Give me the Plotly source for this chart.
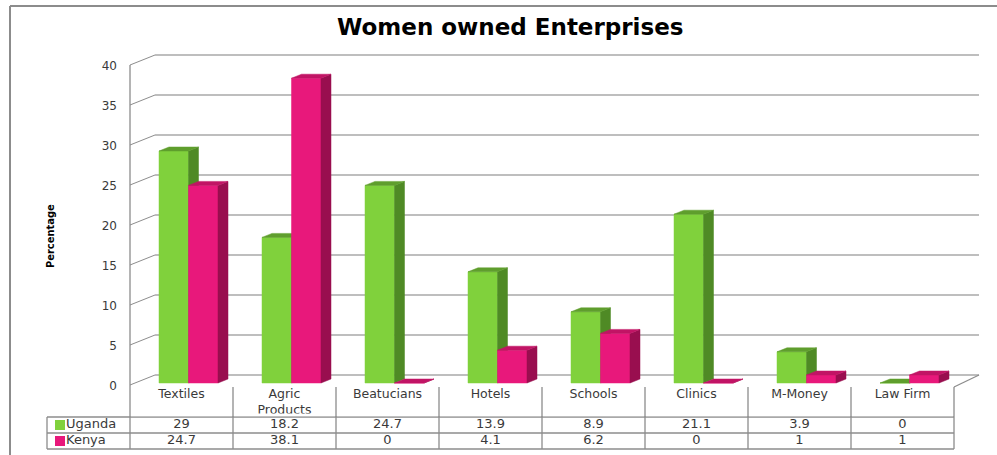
import plotly.graph_objects as go

# ---------------- data ----------------
categories = ["Textiles", "Agric<br>Products", "Beatucians", "Hotels", "Schools",
              "Clinics", "M-Money", "Law Firm"]
uganda = [29, 18.2, 24.7, 13.9, 8.9, 21.1, 3.9, 0]
kenya = [24.7, 38.1, 0, 4.1, 6.2, 0, 1, 1]
series_names = ["Uganda", "Kenya"]
y_ticks = [0, 5, 10, 15, 20, 25, 30, 35, 40]
title_text = "Women owned Enterprises"
y_title = "Percentage"

# ---------------- styles ----------------
W, H = 997, 455
PX_CAT = 103.0     # pixels per category
PX_UNIT = 8.0      # pixels per percentage unit
X0PX = 130.0       # pixel of the front-left axis (x = -0.5)
Y0PX = 385.0       # pixel of value 0 on the front axis

def xd(px):
    return (px - X0PX) / PX_CAT - 0.5

def yd(py):
    return (Y0PX - py) / PX_UNIT

GREEN = dict(front="#80d13c", side="#4f8a25", top="#5f9e2d")
PINK = dict(front="#e8187b", side="#990e4f", top="#c11465")
GRID = "#a8a8a8"
LINE = "#8c8c8c"
TXT = "#3a3a3a"
FONT = "DejaVu Sans"

n = len(categories)
wall_dx = 25 / PX_CAT
wall_dy = 10 / PX_UNIT
bar_dx = 10 / PX_CAT
bar_dy = 4 / PX_UNIT
bar_w = 29.5 / PX_CAT
bar_off = -22.5 / PX_CAT
bar_base = 2 / PX_UNIT

fig = go.Figure()

# back-wall grid lines and side-wall connectors
gx, gy, sx, sy = [], [], [], []
for v in y_ticks:
    gx += [-0.5 + wall_dx, n - 0.5 + wall_dx, None]
    gy += [v + wall_dy, v + wall_dy, None]
    sx += [-0.5, -0.5 + wall_dx, None]
    sy += [v, v + wall_dy, None]
fig.add_trace(go.Scatter(x=gx, y=gy, mode="lines", line=dict(color=GRID, width=1.3),
                         hoverinfo="skip"))
fig.add_trace(go.Scatter(x=sx, y=sy, mode="lines", line=dict(color=LINE, width=1),
                         hoverinfo="skip"))

# 3D bars
def faces(vals, k):
    fx, fy, sdx, sdy, tx, ty = [], [], [], [], [], []
    for i, v in enumerate(vals):
        x0 = i + bar_off + k * bar_w
        x1 = x0 + bar_w
        b = bar_base
        t = bar_base + v
        fx += [x0, x1, x1, x0, x0, None]
        fy += [b, b, t, t, b, None]
        sdx += [x1, x1 + bar_dx, x1 + bar_dx, x1, x1, None]
        sdy += [b, b + bar_dy, t + bar_dy, t, b, None]
        tx += [x0, x1, x1 + bar_dx, x0 + bar_dx, x0, None]
        ty += [t, t, t + bar_dy, t + bar_dy, t, None]
    return (fx, fy), (sdx, sdy), (tx, ty)

for k, (vals, col, name) in enumerate([(uganda, GREEN, series_names[0]),
                                       (kenya, PINK, series_names[1])]):
    f, s, t = faces(vals, k)
    for (px_, py_), c in [(f, col["front"]), (s, col["side"]), (t, col["top"])]:
        fig.add_trace(go.Scatter(x=px_, y=py_, mode="lines", fill="toself",
                                 fillcolor=c, line=dict(color=c, width=0.5),
                                 name=name, hoverinfo="skip"))

# front axis line, table lines, floor diagonal
ax_x = [-0.5, -0.5, None]
ax_y = [40, yd(449), None]
for k in range(1, n + 1):
    ax_x += [-0.5 + k, -0.5 + k, None]
    ax_y += [yd(387), yd(449), None]
for py in [417, 433, 449]:
    ax_x += [xd(47), n - 0.5, None]
    ax_y += [yd(py), yd(py), None]
ax_x += [xd(47), xd(47), None]
ax_y += [yd(417), yd(449), None]
ax_x += [n - 0.5, n - 0.5 + wall_dx, None]
ax_y += [yd(387), wall_dy, None]
fig.add_trace(go.Scatter(x=ax_x, y=ax_y, mode="lines", line=dict(color=LINE, width=1.3),
                         hoverinfo="skip"))

# y tick labels
fig.add_trace(go.Scatter(x=[xd(117)] * len(y_ticks), y=[v - 0.2 for v in y_ticks],
                         mode="text", text=[str(v) for v in y_ticks],
                         textposition="middle left",
                         textfont=dict(family=FONT, size=12, color=TXT), hoverinfo="skip"))

# category names
fig.add_trace(go.Scatter(x=list(range(n)), y=[yd(388.5)] * n, mode="text", text=categories,
                         textposition="bottom center",
                         textfont=dict(family=FONT, size=12.5, color=TXT), hoverinfo="skip"))
# mask clipping the header row (two-line labels are cut by the row border)
mx, my = [], []
for i in range(n):
    x0, x1 = i - 0.5 + 0.01, i + 0.5 - 0.01
    mx += [x0, x1, x1, x0, x0, None]
    my += [yd(413.5), yd(413.5), yd(416.3), yd(416.3), yd(413.5), None]
fig.add_trace(go.Scatter(x=mx, y=my, mode="lines", fill="toself", fillcolor="white",
                         line=dict(color="white", width=0), hoverinfo="skip"))

# value rows
for vals, py in [(uganda, 425), (kenya, 441)]:
    fig.add_trace(go.Scatter(x=list(range(n)), y=[yd(py)] * n, mode="text",
                             text=[f"{v:g}" for v in vals], textposition="middle center",
                             textfont=dict(family=FONT, size=13, color=TXT), hoverinfo="skip"))

# legend keys in the table
for name, col, py in [(series_names[0], GREEN, 425), (series_names[1], PINK, 441)]:
    fig.add_trace(go.Scatter(x=[xd(60)], y=[yd(py)], mode="markers",
                             marker=dict(symbol="square", size=10, color=col["front"]),
                             hoverinfo="skip"))
    fig.add_trace(go.Scatter(x=[xd(66)], y=[yd(py)], mode="text", text=[name],
                             textposition="middle right",
                             textfont=dict(family=FONT, size=13, color=TXT), hoverinfo="skip"))

fig.update_layout(
    width=W, height=H,
    margin=dict(l=0, r=0, t=0, b=0),
    paper_bgcolor="white", plot_bgcolor="white",
    showlegend=False,
    xaxis=dict(range=[xd(0), xd(W)], visible=False, fixedrange=True),
    yaxis=dict(range=[yd(H), yd(0)], visible=False, fixedrange=True),
    shapes=[
        dict(type="line", xref="paper", yref="paper", x0=10 / W, x1=1.0,
             y0=1 - 6 / H, y1=1 - 6 / H, line=dict(color="#8c8c8c", width=2)),
        dict(type="line", xref="paper", yref="paper", x0=10 / W, x1=10 / W,
             y0=1 - 6 / H, y1=0, line=dict(color="#8c8c8c", width=2)),
    ],
    annotations=[
        dict(text=f"<b>{title_text}</b>", xref="paper", yref="paper",
             x=510 / W, y=1 - 27 / H, xanchor="center", yanchor="middle", showarrow=False,
             font=dict(family=FONT, size=23, color="black")),
        dict(text=f"<b>{y_title}</b>", xref="paper", yref="paper",
             x=50 / W, y=1 - 236 / H, xanchor="center", yanchor="middle",
             showarrow=False, textangle=-90,
             font=dict(family="Liberation Sans Narrow, DejaVu Sans Condensed, sans-serif",
                       size=11, color="black")),
    ],
)

fig.write_html("out.html")
